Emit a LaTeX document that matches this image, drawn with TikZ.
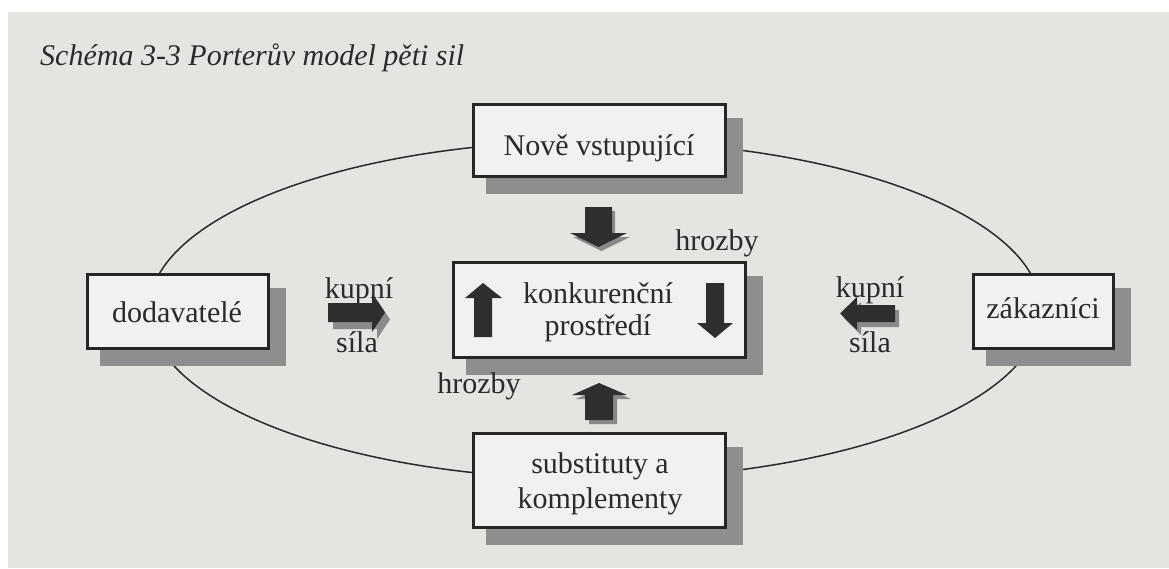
\documentclass[tikz,border=0pt]{standalone}
\usepackage{fontspec}
\setmainfont{Liberation Serif}
\usetikzlibrary{calc}
\pgfdeclarelayer{paper}
\pgfdeclarelayer{ell}
\pgfdeclarelayer{shad}
\pgfsetlayers{paper,ell,shad,main}
\definecolor{bg}{HTML}{E4E4E1}
\definecolor{boxfill}{HTML}{F1F1EF}
\definecolor{boxline}{HTML}{262626}
\definecolor{shadowgray}{HTML}{8E8E8E}
\definecolor{ink}{HTML}{2A2A2A}
\definecolor{arrowdark}{HTML}{2E2E2E}
\definecolor{arrowshad}{HTML}{8A8A8A}
\tikzset{
  box/.style={draw=boxline, line width=3pt, fill=boxfill, inner sep=0pt},
  lbl/.style={font=\fontsize{30}{34}\selectfont, text=ink, inner sep=0pt, anchor=base},
  ellline/.style={draw=ink, line width=1.5pt},
  blk/.style={fill=arrowdark},
  blkshadow/.style={fill=arrowshad},
  boxshadow/.style={fill=shadowgray},
}
\begin{document}
\begin{tikzpicture}[x=1pt,y=-1pt]
\useasboundingbox (0,0) rectangle (1169,568);
\begin{pgfonlayer}{paper}
\fill[white] (0,0) rectangle (1169,568);
\fill[bg] (8,12) rectangle (1169,568);
\end{pgfonlayer}

% title
\node[lbl, font=\fontsize{30}{34}\selectfont\itshape, anchor=base west] (title) at (40,65) {Schéma 3-3 Porterův model pěti sil};

% boxes
\node[box, minimum width=252pt, minimum height=72pt] (nove) at (599,140) {};
\node[box, minimum width=181pt, minimum height=74pt] (dod) at (177.5,311) {};
\node[box, minimum width=140pt, minimum height=74pt] (zak) at (1043,311) {};
\node[box, minimum width=292pt, minimum height=95pt] (konk) at (599,309.5) {};
\node[box, minimum width=252pt, minimum height=94pt] (subst) at (599,480) {};

% shadows
\begin{pgfonlayer}{shad}
\foreach \n in {nove,dod,zak,konk,subst}{
  \fill[boxshadow] ($(\n.north west)+(14,15)$) rectangle ($(\n.south east)+(16,16)$);
}
\end{pgfonlayer}

% ellipse
\begin{pgfonlayer}{ell}
\draw[ellline] (595,310) ellipse [x radius=446, y radius=169];
\end{pgfonlayer}

% texts
\node[lbl] (noveT) at (599,155) {Nově vstupující};
\node[lbl] (dodT) at (177,322) {dodavatelé};
\node[lbl] (zakT) at (1043,318) {zákazníci};
\node[lbl] (konkT1) at (598,303) {konkurenční};
\node[lbl] (konkT2) at (598,335) {prostředí};
\node[lbl] (substT1) at (600,473) {substituty a};
\node[lbl] (substT2) at (600,508) {komplementy};
\node[lbl] (kupL) at (359,298) {kupní};
\node[lbl] (silaL) at (357,352) {síla};
\node[lbl] (kupR) at (870,297) {kupní};
\node[lbl] (silaR) at (870,352) {síla};
\node[lbl] (hrozT) at (717,250) {hrozby};
\node[lbl] (hrozB) at (479,393) {hrozby};

% block arrows: top down
\fill[blkshadow, shift={(3,4)}] (585,207) -- (612,207) -- (612,233) -- (627,233) -- (598.5,247) -- (570,233) -- (585,233) -- cycle;
\fill[blk] (585,207) -- (612,207) -- (612,233) -- (627,233) -- (598.5,247) -- (570,233) -- (585,233) -- cycle;
% bottom up
\fill[blkshadow, shift={(4,4)}] (585,420) -- (613,420) -- (613,395) -- (627,395) -- (599,383) -- (572,395) -- (585,395) -- cycle;
\fill[blk] (585,420) -- (613,420) -- (613,395) -- (627,395) -- (599,383) -- (572,395) -- (585,395) -- cycle;
% inside up
\fill[blk] (474,337) -- (492,337) -- (492,298) -- (502,298) -- (483,283) -- (465,298) -- (474,298) -- cycle;
% inside down
\fill[blk] (706,283) -- (724,283) -- (724,323) -- (733,323) -- (715,338) -- (697,323) -- (706,323) -- cycle;
% left kupni
\fill[blkshadow, shift={(5,7)}] (328,303) -- (372,303) -- (372,293) -- (385,312.5) -- (372,332) -- (372,322) -- (328,322) -- cycle;
\fill[blk] (328,303) -- (372,303) -- (372,293) -- (385,312.5) -- (372,332) -- (372,322) -- (328,322) -- cycle;
% right kupni
\fill[blkshadow, shift={(4,5)}] (895,305) -- (857,305) -- (857,297) -- (840,313.5) -- (857,330) -- (857,322) -- (895,322) -- cycle;
\fill[blk] (895,305) -- (857,305) -- (857,297) -- (840,313.5) -- (857,330) -- (857,322) -- (895,322) -- cycle;
\end{tikzpicture}
\end{document}
